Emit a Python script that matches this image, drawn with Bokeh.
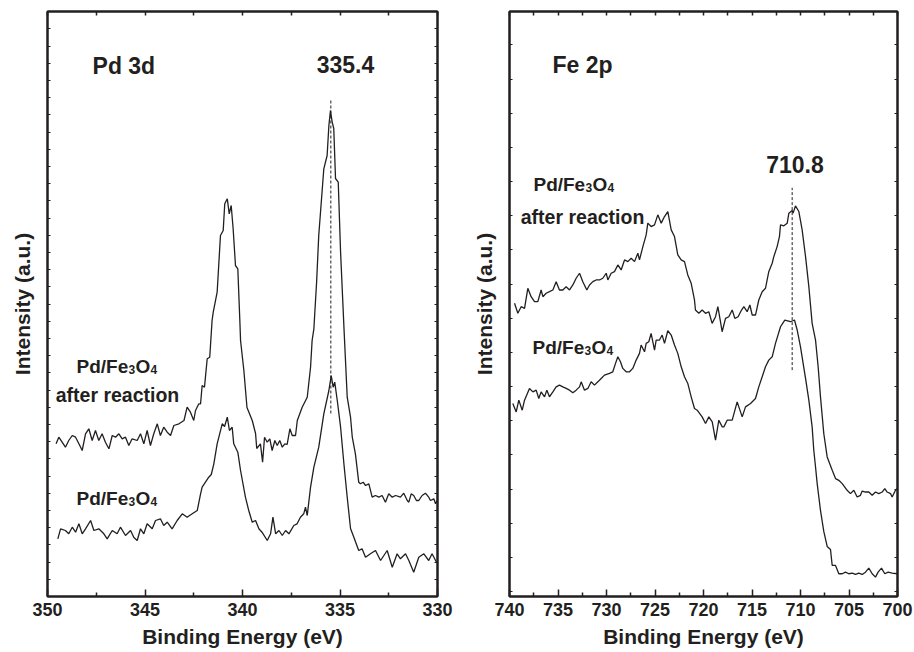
import numpy as np
from bokeh.plotting import figure
from bokeh.models import Range1d, FixedTicker, LinearAxis, Label, CustomLabelingPolicy
from bokeh.layouts import row
from bokeh.embed import file_html
from bokeh.resources import INLINE

# ---------------- data ----------------
# Pd 3d, Pd/Fe3O4 after reaction
pd_after_E = [349.56, 349.42, 349.25, 349.08, 348.91, 348.73, 348.56, 348.39, 348.22, 348.05,
              347.88, 347.71, 347.54, 347.37, 347.2, 347.03, 346.85, 346.68, 346.51, 346.34,
              346.17, 346.0, 345.83, 345.66, 345.4, 345.23, 345.06, 344.89, 344.72, 344.55,
              344.37, 344.21, 344.04, 343.86, 343.69, 343.52, 343.26, 343.0, 342.84, 342.67,
              342.5, 342.41, 342.24, 342.15, 342.07, 341.95, 341.81, 341.68, 341.56, 341.5,
              341.3, 341.13, 340.99, 340.91, 340.78, 340.68, 340.58, 340.48, 340.36, 340.24,
              340.14, 340.1, 339.93, 339.77, 339.5, 339.33, 339.27, 339.08, 338.97, 338.87,
              338.73, 338.6, 338.48, 338.34, 338.22, 338.09, 337.96, 337.83, 337.71, 337.57,
              337.45, 337.28, 337.19, 336.94, 336.68, 336.51, 336.43, 336.34, 336.2, 336.09,
              335.83, 335.66, 335.57, 335.49, 335.4, 335.32, 335.23, 335.09, 334.97, 334.8,
              334.63, 334.46, 334.37, 334.21, 334.04, 333.95, 333.81, 333.69, 333.52, 333.35,
              333.18, 333.01, 332.84, 332.67, 332.5, 332.32, 332.15, 331.9, 331.73, 331.55,
              331.47, 331.35, 331.22, 331.08, 330.96, 330.79, 330.62, 330.45, 330.36, 330.19,
              330.1, 330.02]
pd_after_I = [152.7, 159.3, 154.3, 149.3, 156, 161, 159.3, 152.7, 146, 162.7,
              167.7, 156, 166, 156, 162.7, 154.3, 147.7, 161, 159.3, 162.7,
              157.7, 159.3, 151, 157.7, 156, 162.7, 152.7, 166, 151, 162.7,
              172.7, 161, 169.3, 164.3, 161, 171, 172.7, 176, 189.3, 184.3,
              176, 186, 192.7, 192.7, 211, 209.3, 237.7, 239.3, 276, 284.3,
              304.3, 361, 366, 392.7, 397.7, 382.7, 391, 367.7, 331, 327.7,
              277.7, 256, 226, 189, 176, 163, 148, 152.7, 134.3, 159.3,
              154.3, 157.7, 146, 156, 151, 156, 149.3, 152.7, 152, 167.7,
              161, 161, 176, 189.3, 199.3, 229.3, 256, 267.7, 314.3, 361,
              427.7, 441, 471, 486, 474.3, 468, 418, 414.3, 344.3, 270,
              199.3, 179.3, 159.3, 142.7, 114.3, 112.7, 114.3, 111, 112.7, 99.3,
              101, 99.3, 101, 94.3, 102.7, 99.3, 101, 99.3, 103.3, 96,
              94.3, 102.7, 101, 96, 96, 101, 103.3, 99.3, 96, 97.7,
              92.7, 96]

# Pd 3d, fresh Pd/Fe3O4
pd_fresh_E = [349.47, 349.33, 349.08, 348.91, 348.73, 348.56, 348.39, 348.22, 348.05, 347.79,
              347.62, 347.37, 347.11, 346.94, 346.68, 346.43, 346.26, 346.0, 345.74, 345.57,
              345.4, 345.23, 345.06, 344.89, 344.63, 344.46, 344.21, 344.04, 343.86, 343.61,
              343.35, 343.09, 342.84, 342.58, 342.32, 342.15, 342.07, 341.73, 341.6, 341.47,
              341.3, 341.04, 340.92, 340.78, 340.67, 340.53, 340.45, 340.24, 340.1, 339.85,
              339.68, 339.5, 339.33, 339.16, 339.0, 338.73, 338.56, 338.44, 338.3, 338.13,
              337.96, 337.79, 337.62, 337.37, 337.2, 337.03, 336.86, 336.77, 336.68, 336.51,
              336.34, 336.09, 335.83, 335.57, 335.45, 335.35, 335.27, 335.14, 334.97, 334.8,
              334.63, 334.46, 334.29, 334.04, 333.87, 333.69, 333.44, 333.18, 332.92, 332.75,
              332.58, 332.32, 332.07, 331.9, 331.64, 331.47, 331.22, 330.96, 330.7, 330.45,
              330.28, 330.05]
pd_fresh_I = [57.7, 67.7, 66, 62.7, 69.3, 64.3, 72.7, 62.7, 67.7, 76,
              66, 67.7, 62.7, 57.7, 66, 62.7, 69.3, 61, 66, 59,
              56, 67.7, 62.7, 72.7, 67.7, 76, 77.7, 71, 74.3, 67.7,
              76, 82.7, 79.3, 82.7, 86, 102.7, 109.3, 119.3, 122, 132.7,
              152.7, 172.7, 170, 179.3, 166, 169.3, 152.7, 144.3, 126, 99.3,
              86, 74.3, 76, 67.7, 64.3, 56, 62.7, 79.3, 62.7, 66,
              61, 66, 62.7, 71, 72.7, 79.3, 82.7, 89.3, 81, 109.3,
              129.3, 149.3, 182.7, 206, 221, 209.3, 214.3, 196, 169.3, 132.7,
              99.3, 68, 59.3, 46, 47.7, 39.3, 42.7, 46, 36, 41,
              46, 29.3, 42.7, 37.7, 42.7, 36, 24.3, 39.3, 42.7, 36,
              42.7, 34.3]

# Fe 2p, Pd/Fe3O4 after reaction
fe_after_E = [739.48, 739.14, 738.8, 738.45, 738.11, 737.77, 737.42, 737.08, 736.74, 736.56,
              736.22, 735.88, 735.53, 735.19, 734.85, 734.5, 734.16, 733.81, 733.47, 733.13,
              732.78, 732.44, 732.03, 731.75, 731.41, 731.07, 730.72, 730.38, 730.03, 729.86,
              729.52, 729.18, 728.83, 728.49, 728.14, 727.8, 727.46, 727.11, 726.77, 726.6,
              726.25, 725.91, 725.74, 725.4, 725.05, 724.71, 724.36, 724.02, 723.68, 723.33,
              722.99, 722.65, 722.3, 721.96, 721.62, 721.27, 720.93, 720.83, 720.48, 720.14,
              719.79, 719.45, 719.11, 718.76, 718.52, 718.25, 718.08, 717.73, 717.39, 717.04,
              716.77, 716.43, 716.08, 715.84, 715.5, 715.22, 714.98, 714.64, 714.3, 713.95,
              713.61, 713.27, 712.92, 712.75, 712.41, 712.17, 712.06, 711.72, 711.37, 711.2,
              710.86, 710.76, 710.52, 710.17, 709.83, 709.48, 709.14, 708.8, 708.45, 708.18,
              707.94, 707.6, 707.25, 706.73, 706.39, 706.05, 705.7, 705.19, 704.85, 704.5,
              704.16, 703.82, 703.64, 703.3, 702.96, 702.61, 702.27, 701.93, 701.58, 701.31,
              701.07, 700.72, 700.55, 700.21, 700.04]
fe_after_I = [292.7, 282.7, 289.3, 287.7, 307.7, 299.3, 294.3, 294.3, 306, 299.3,
              302.7, 304.3, 306, 314.3, 306, 306, 309.3, 306, 311, 317.7,
              322.7, 314.3, 306, 311, 314.3, 316, 316, 317.7, 322.7, 316,
              322.7, 324.3, 331, 326, 336, 334.3, 337.7, 334.3, 342.7, 336,
              349.3, 361, 372.7, 369.3, 371, 381, 372.7, 379.3, 384.3, 366,
              359.3, 341, 336, 334.3, 321, 312.7, 296, 286, 282.7, 286,
              282.7, 284.3, 272.7, 279.3, 289.3, 274.3, 264.3, 277.7, 279.3, 286,
              277.7, 279.3, 286, 289.3, 284.3, 291, 281, 281, 296, 304.3,
              307.7, 324.3, 332.7, 339.3, 349.3, 359.3, 371, 370, 372.7, 382.7,
              385.3, 382.7, 390, 384.3, 366, 339.3, 309.3, 272.7, 256, 229.3,
              199.3, 162.7, 139.3, 126, 117.7, 116, 112.7, 106, 102.7, 106,
              99.3, 101, 105.3, 104.3, 104.3, 101, 104.3, 102.7, 104.3, 107.7,
              104.3, 102.7, 99.3, 106, 107.7]

# Fe 2p, fresh Pd/Fe3O4
fe_fresh_E = [739.66, 739.31, 739.04, 738.69, 738.45, 737.94, 737.59, 737.25, 736.98, 736.74,
              736.39, 736.15, 735.88, 735.53, 735.19, 734.85, 734.5, 734.16, 733.81, 733.47,
              733.13, 732.78, 732.61, 732.27, 731.92, 731.58, 731.24, 730.89, 730.55, 730.21,
              729.69, 729.35, 729.07, 728.83, 728.56, 728.32, 727.97, 727.63, 727.29, 726.94,
              726.6, 726.43, 726.08, 725.91, 725.64, 725.4, 725.05, 724.88, 724.54, 724.26,
              724.02, 723.68, 723.33, 722.99, 722.65, 722.3, 721.96, 721.62, 721.27, 720.93,
              720.65, 720.14, 719.79, 719.45, 719.1, 718.76, 718.42, 718.07, 717.9, 717.56,
              717.04, 716.53, 716.01, 715.67, 715.15, 714.64, 714.3, 713.95, 713.61, 713.27,
              712.92, 712.58, 712.06, 711.62, 711.03, 710.62, 710.34, 710.0, 709.48, 709.14,
              708.8, 708.63, 708.45, 708.28, 707.94, 707.6, 707.25, 706.91, 706.73, 706.39,
              706.05, 705.7, 705.36, 705.02, 704.67, 704.33, 703.99, 703.64, 703.3, 702.96,
              702.61, 702.27, 702.0, 701.65, 701.31, 700.96, 700.55, 700.04]
fe_fresh_I = [192.7, 184.3, 196, 186, 196, 207.7, 204.3, 206, 197.7, 204.3,
              199.3, 206, 199.3, 204.3, 209.3, 211, 209.3, 207.7, 206, 203.3,
              206, 209.3, 214.3, 206, 207.7, 214.3, 211, 214.3, 217.7, 221,
              222.7, 224.3, 232.7, 239.3, 234.3, 227.7, 224.3, 224.3, 227.7, 236,
              242.7, 251, 244.3, 252.7, 254.3, 262.7, 246, 256, 256, 261,
              252.7, 265.3, 261, 251, 242.7, 229.3, 219.3, 212.7, 199.3, 187.7,
              186, 179.3, 172.7, 179.3, 174.3, 156, 176, 169.3, 169.3, 176,
              176, 194.3, 179.3, 189.3, 192.7, 197.7, 209.3, 219.3, 229.3, 236,
              239.3, 252.7, 269.3, 276, 274.3, 276, 266, 249.3, 217.7, 196,
              169.3, 146, 129.3, 112.7, 86, 65, 50, 47, 31, 31,
              22.7, 22.7, 24.3, 22.7, 23.3, 22, 23.3, 22, 24.3, 28.3,
              22.7, 19.3, 24.3, 28.3, 22.7, 24.3, 23.3, 22.7]

pd_peak = 335.47      # eV, marked peak (label 335.4)
pd_mark = (183, 496)  # intensity extent of marker line
fe_peak = 710.86      # eV, marked peak (label 710.8)
fe_mark = (226, 408)

# ---------------- styling ----------------
FONT = "Liberation Sans"
INK = "#231f20"


def no_labels():
    return CustomLabelingPolicy(code="for (const i of []) { yield i }")


def hide_tick_labels(ax):
    ax.major_label_text_font_size = "0px"
    ax.major_label_policy = no_labels()
    ax.major_label_standoff = 0


def make_panel(width, xr, yr, x_major, x_minor, y_ticks, bl, br):
    p = figure(width=width, height=652, x_range=Range1d(*xr), y_range=Range1d(*yr),
               output_backend="svg", toolbar_location=None, tools="",
               min_border_left=bl, min_border_right=br, min_border_top=11, min_border_bottom=56)
    p.xgrid.visible = False
    p.ygrid.visible = False
    p.outline_line_color = INK
    p.outline_line_width = 2
    p.background_fill_color = "white"
    p.border_fill_color = "white"

    xa = p.xaxis[0]
    xa.ticker = FixedTicker(ticks=x_major, minor_ticks=x_minor)
    xa.axis_line_color = INK
    xa.axis_line_width = 2
    xa.major_tick_in = 7
    xa.major_tick_out = 0
    xa.minor_tick_in = 4
    xa.minor_tick_out = 0
    xa.major_tick_line_color = INK
    xa.minor_tick_line_color = INK
    xa.major_tick_line_width = 1.5
    xa.minor_tick_line_width = 1.5
    xa.major_label_text_font = FONT
    xa.major_label_text_font_style = "bold"
    xa.major_label_text_font_size = "18px"
    xa.major_label_text_color = INK
    xa.major_label_standoff = 6
    xa.axis_label = "Binding Energy (eV)"
    xa.axis_label_text_font = FONT
    xa.axis_label_text_font_style = "bold"
    xa.axis_label_text_font_size = "21px"
    xa.axis_label_text_color = INK
    xa.axis_label_standoff = 6

    top = LinearAxis(ticker=FixedTicker(ticks=sorted(list(x_major) + list(x_minor)), minor_ticks=[]),
                     axis_line_color=INK, axis_line_width=2,
                     major_tick_in=4, major_tick_out=0, minor_tick_in=0, minor_tick_out=0,
                     major_tick_line_color=INK, major_tick_line_width=1.5)
    hide_tick_labels(top)
    p.add_layout(top, "above")

    ya = p.yaxis[0]
    ya.ticker = FixedTicker(ticks=y_ticks, minor_ticks=[])
    hide_tick_labels(ya)
    ya.axis_line_color = INK
    ya.axis_line_width = 2
    ya.major_tick_in = 3
    ya.major_tick_out = 0
    ya.minor_tick_in = 0
    ya.minor_tick_out = 0
    ya.major_tick_line_color = INK
    ya.major_tick_line_width = 1.2
    ya.axis_label = "Intensity (a.u.)"
    ya.axis_label_text_font = FONT
    ya.axis_label_text_font_style = "bold"
    ya.axis_label_text_font_size = "21px"
    ya.axis_label_text_color = INK
    ya.axis_label_standoff = 14

    rax = LinearAxis(ticker=FixedTicker(ticks=y_ticks, minor_ticks=[]),
                     axis_line_color=INK, axis_line_width=2,
                     major_tick_in=3, major_tick_out=0, minor_tick_in=0, minor_tick_out=0,
                     major_tick_line_color=INK, major_tick_line_width=1.2)
    hide_tick_labels(rax)
    p.add_layout(rax, "right")
    return p


def txt(p, x, y, text, size, align="left", baseline="alphabetic", dx=0, dy=0):
    p.add_layout(Label(x=x, y=y, x_offset=dx, y_offset=dy, text=text, text_font=FONT,
                       text_font_style="bold", text_font_size=size, text_color=INK,
                       text_align=align, text_baseline=baseline))


def formula(p, x, y):
    txt(p, x, y, "Pd/Fe", "19px")
    txt(p, x, y, "3", "12px", dx=52, dy=-3)
    txt(p, x, y, "O", "19px", dx=59)
    txt(p, x, y, "4", "12px", dx=74, dy=-3)


x1_major = [350, 345, 340, 335, 330]
x1_minor = [347.5, 342.5, 337.5, 332.5]
y1_ticks = list(np.round(np.arange(0, 586, 17.2), 1))
p1 = make_panel(462, (350, 330), (0, 585), x1_major, x1_minor, y1_ticks, 47, 25)
p1.line(pd_after_E, pd_after_I, line_color=INK, line_width=1.3)
p1.line(pd_fresh_E, pd_fresh_I, line_color=INK, line_width=1.3)
p1.segment(x0=[pd_peak], y0=[pd_mark[0]], x1=[pd_peak], y1=[pd_mark[1]],
           line_color=INK, line_width=1, line_dash="3 2")
txt(p1, 347.69, 531, "Pd 3d", "23px", baseline="middle")
txt(p1, 334.72, 532, "335.4", "23px", align="center", baseline="middle")
formula(p1, 348.51, 230)
txt(p1, 346.41, 201.5, "after reaction", "19.5px", align="center")
formula(p1, 348.51, 98)

x2_major = [740, 735, 730, 725, 720, 715, 710, 705, 700]
x2_minor = [737.5, 732.5, 727.5, 722.5, 717.5, 712.5, 707.5, 702.5]
y2_ticks = list(np.round(np.arange(5, 585, 34.1), 1))
p2 = make_panel(452, (740, 700), (0, 584), x2_major, x2_minor, y2_ticks, 47, 17)
p2.line(fe_after_E, fe_after_I, line_color=INK, line_width=1.3)
p2.line(fe_fresh_E, fe_fresh_I, line_color=INK, line_width=1.3)
p2.segment(x0=[fe_peak], y0=[fe_mark[0]], x1=[fe_peak], y1=[fe_mark[1]],
           line_color=INK, line_width=1, line_dash="3 2")
txt(p2, 735.57, 531, "Fe 2p", "23px", baseline="middle")
txt(p2, 710.57, 431, "710.8", "23px", align="center", baseline="middle")
formula(p2, 737.53, 411)
txt(p2, 732.47, 379, "after reaction", "19.5px", align="center")
formula(p2, 737.63, 249)

layout = row(p1, p2)
open("out.html", "w").write(file_html(layout, INLINE))
